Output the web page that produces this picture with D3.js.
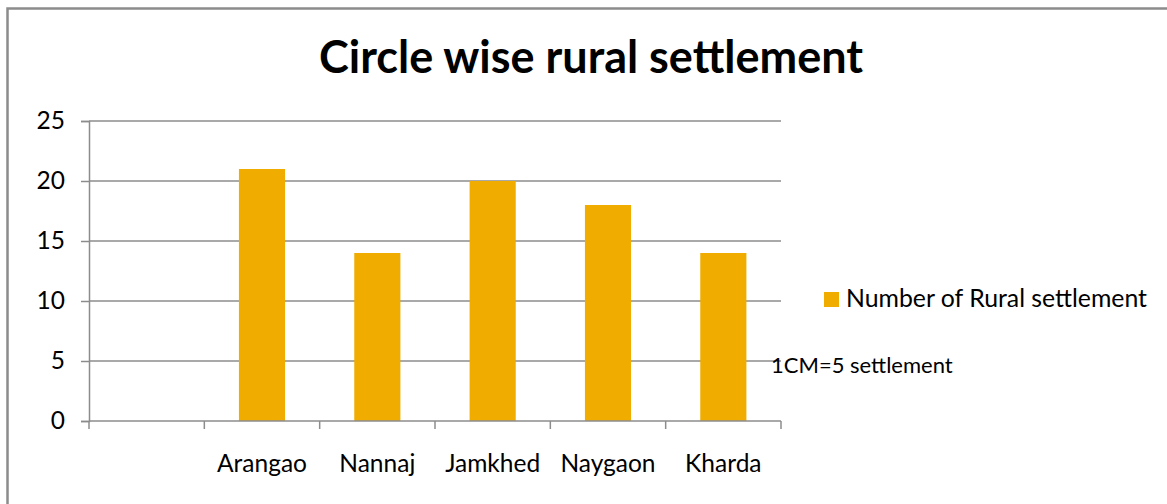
<!DOCTYPE html>
<html>
<head>
<meta charset="utf-8">
<script src="https://cdn.jsdelivr.net/npm/d3@7"></script>
<style>
    body { margin: 0; background: #fff; }
    svg { display: block; font-family: Lato, "Open Sans", sans-serif; }
</style>
</head>
<body>
<svg id="chart" width="1167" height="504"></svg>
<script>
// data
const categories = ['', 'Arangao', 'Nannaj', 'Jamkhed', 'Naygaon', 'Kharda'];
const settlements = [null, 21, 14, 20, 18, 14];
const yTicks = [0, 5, 10, 15, 20, 25];
const seriesName = 'Number of Rural settlement';
const titleText = 'Circle wise rural settlement';
const noteText = '1CM=5 settlement';

const svg = d3.select('#chart');
const gray = '#8c8c8c';
const barColor = '#f0ad00';
const margin = {top: 121, left: 89, right: 386, bottom: 83};
const width = 1167, height = 504;

// frame (only top and left edges show in the picture)
svg.append('path')
    .attr('d', `M7.5,${height}V8.5H${width}`)
    .attr('fill', 'none')
    .attr('stroke', gray)
    .attr('stroke-width', 2.5);

const x = d3.scaleBand()
    .domain(categories.map((d, i) => i))
    .range([margin.left, width - margin.right])
    .paddingInner(0)
    .paddingOuter(0);

const y = d3.scaleLinear()
    .domain([0, 25])
    .range([height - margin.bottom, margin.top]);

// gridlines + y axis
const yAxis = d3.axisLeft(y).tickValues(yTicks).tickSize(8).tickPadding(16);
const gy = svg.append('g')
    .attr('transform', `translate(${margin.left},0)`)
    .call(yAxis)
    .attr('font-family', null)
    .attr('font-size', null);
gy.select('.domain').attr('stroke', gray).attr('stroke-width', 1.5);
gy.selectAll('.tick line').attr('stroke', gray).attr('stroke-width', 1.5);
gy.selectAll('.tick text')
    .attr('fill', '#000')
    .style('font-size', '24.5px');

svg.append('g').selectAll('line.grid')
    .data(yTicks.filter(d => d > 0))
    .join('line')
    .attr('class', 'grid')
    .attr('x1', margin.left)
    .attr('x2', width - margin.right)
    .attr('y1', d => y(d))
    .attr('y2', d => y(d))
    .attr('stroke', gray)
    .attr('stroke-width', 1.5);

// bars
const barW = x.bandwidth() / 2.5;
svg.append('g').selectAll('rect')
    .data(settlements.map((v, i) => ({v, i})).filter(d => d.v !== null))
    .join('rect')
    .attr('x', d => x(d.i) + (x.bandwidth() - barW) / 2)
    .attr('y', d => y(d.v))
    .attr('width', barW)
    .attr('height', d => y(0) - y(d.v))
    .attr('fill', barColor);

// x axis
const gx = svg.append('g')
    .attr('transform', `translate(0,${y(0)})`);
gx.append('line')
    .attr('x1', margin.left).attr('x2', width - margin.right)
    .attr('stroke', gray).attr('stroke-width', 1.5);
gx.selectAll('line.tick')
    .data(d3.range(categories.length + 1))
    .join('line')
    .attr('class', 'tick')
    .attr('x1', i => margin.left + i * x.step())
    .attr('x2', i => margin.left + i * x.step())
    .attr('y1', 0).attr('y2', 8)
    .attr('stroke', gray).attr('stroke-width', 1.5);
gx.selectAll('text')
    .data(categories)
    .join('text')
    .attr('x', (d, i) => x(i) + x.bandwidth() / 2)
    .attr('y', 51)
    .attr('text-anchor', 'middle')
    .style('font-size', '24.5px')
    .text(d => d);

// title
svg.append('text')
    .attr('x', 591)
    .attr('y', 73)
    .attr('text-anchor', 'middle')
    .style('font-size', '45px')
    .style('font-weight', 'bold')
    .text(titleText);

// legend
const lg = svg.append('g').attr('transform', 'translate(824,292)');
lg.append('rect').attr('width', 15).attr('height', 15).attr('fill', barColor);
lg.append('text')
    .attr('x', 22).attr('y', 15)
    .style('font-size', '24.8px')
    .text(seriesName);

svg.append('text')
    .attr('x', 771).attr('y', 373)
    .style('font-size', '22px')
    .text(noteText);
</script>
</body>
</html>
